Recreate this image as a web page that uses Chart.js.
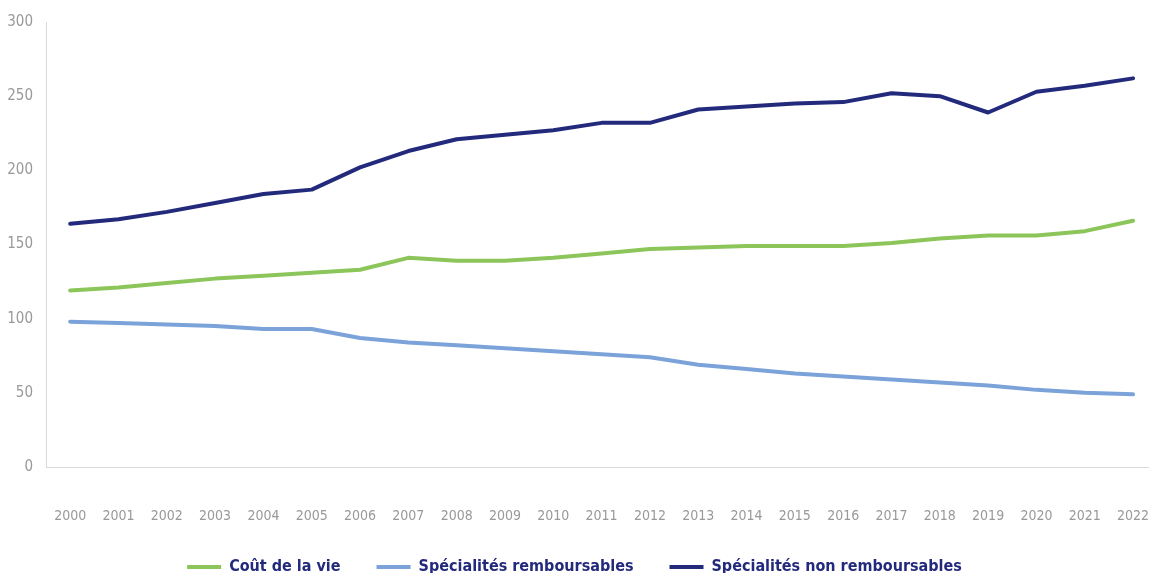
<!DOCTYPE html>
<html>
<head>
<meta charset="utf-8">
<script src="https://cdn.jsdelivr.net/npm/chart.js@4"></script>
<style>
  html, body { margin: 0; padding: 0; background: #fff; }
  #wrap { width: 1149px; height: 573px; overflow: hidden; position: relative; }
  #inner { width: 1149px; height: 585px; position: relative; }
</style>
</head>
<body>
<div id="wrap"><div id="inner"><canvas id="myChart"></canvas></div></div>
<script>
const years = [2000, 2001, 2002, 2003, 2004, 2005, 2006, 2007, 2008, 2009, 2010, 2011,
               2012, 2013, 2014, 2015, 2016, 2017, 2018, 2019, 2020, 2021, 2022];
const coutVie = [119, 121, 124, 127, 129, 131, 133, 141, 139, 139, 141, 144,
                 147, 148, 149, 149, 149, 151, 154, 156, 156, 159, 166];
const rembours = [98, 97, 96, 95, 93, 93, 87, 84, 82, 80, 78, 76,
                  74, 69, 66, 63, 61, 59, 57, 55, 52, 50, 49];
const nonRembours = [164, 167, 172, 178, 184, 187, 202, 213, 221, 224, 227, 232,
                     232, 241, 243, 245, 246, 252, 250, 239, 253, 257, 262];
const yTicks = [0, 50, 100, 150, 200, 250, 300];

const font = '"DejaVu Sans Condensed", "Liberation Sans Narrow", sans-serif';
const ctx = document.getElementById('myChart').getContext('2d');

let toPoints = function (values) {
    return years.map((y, i) => ({ x: y, y: values[i] }));
}

let lineSet = function (label, values, color) {
    return {
        label: label,
        data: toPoints(values),
        borderColor: color,
        backgroundColor: color,
        borderWidth: 4,
        pointRadius: 0,
        tension: 0,
        borderCapStyle: 'round',
        borderJoinStyle: 'round',
    };
}

const config = {
    type: 'line',
    data: {
        datasets: [
            lineSet('Coût de la vie', coutVie, '#8cc55a'),
            lineSet('Spécialités remboursables', rembours, '#7ba3d9'),
            lineSet('Spécialités non remboursables', nonRembours, '#232a7c'),
        ]
    },
    options: {
        responsive: true,
        maintainAspectRatio: false,
        animation: false,
        layout: { padding: { top: 18, left: 0, right: 0, bottom: 0 } },
        plugins: {
            tooltip: { enabled: false },
            legend: {
                position: 'bottom',
                labels: {
                    boxWidth: 34,
                    boxHeight: 4,
                    padding: 36,
                    color: '#232a7c',
                    font: { family: font, size: 16, weight: 'bold' },
                    // flat legend swatches, no stroke around them
                    generateLabels: function (chart) {
                        return Chart.defaults.plugins.legend.labels.generateLabels(chart)
                            .map(item => Object.assign(item, { lineWidth: 0 }));
                    },
                },
            },
        },
        scales: {
            x: {
                type: 'linear',
                min: 1999.5,
                max: 2022.33,
                afterBuildTicks: function (scale) {
                    scale.ticks = years.map(v => ({ value: v }));
                },
                afterFit: function (scale) {
                    scale.paddingLeft = 0;
                    scale.paddingRight = 0;
                    scale.height = 56;
                },
                grid: { display: false, drawTicks: false },
                border: { color: '#d9d9d9', width: 1 },
                ticks: {
                    padding: 41,
                    color: '#999999',
                    autoSkip: false,
                    maxRotation: 0,
                    font: { family: font, size: 14 },
                    callback: v => String(v),
                },
            },
            y: {
                min: 0,
                max: 300,
                afterBuildTicks: function (scale) {
                    scale.ticks = yTicks.map(v => ({ value: v }));
                },
                afterFit: function (scale) {
                    scale.width = 46;
                },
                grid: { display: false, drawTicks: false },
                border: { color: '#d9d9d9', width: 1 },
                ticks: {
                    padding: 13,
                    color: '#999999',
                    font: { family: font, size: 15 },
                },
            },
        },
    },
};

const lineChart = new Chart(ctx, config);
</script>
</body>
</html>
